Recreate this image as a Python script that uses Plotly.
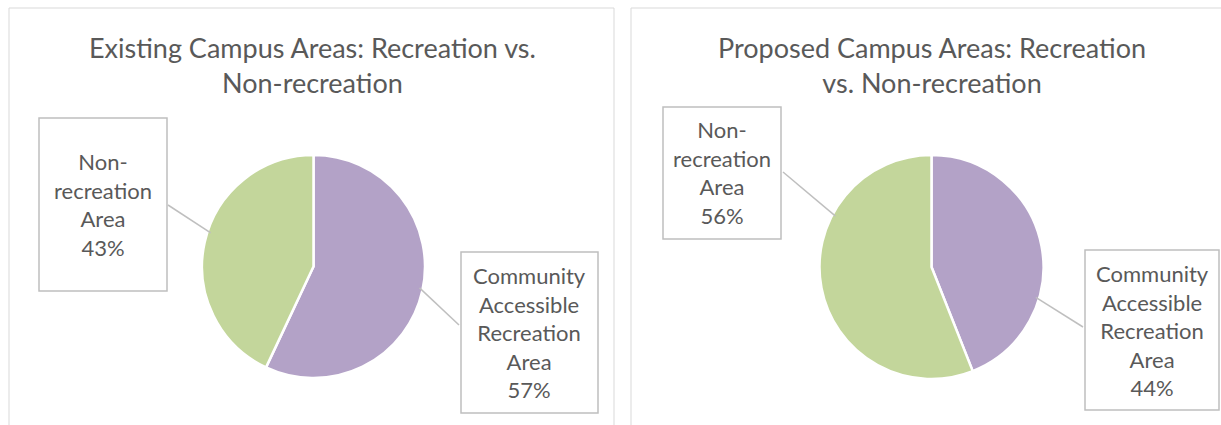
import math
import plotly.graph_objects as go

# data
categories = ["Community Accessible Recreation Area", "Non-recreation Area"]
label_text = ["Community<br>Accessible<br>Recreation<br>Area", "Non-<br>recreation<br>Area"]
existing_pct = [57, 43]
proposed_pct = [44, 56]
titles = [
    "Existing Campus Areas: Recreation vs.<br>Non-recreation",
    "Proposed Campus Areas: Recreation<br>vs. Non-recreation",
]

W, H = 1221, 425
COLORS = ["#B3A2C7", "#C3D69B"]
TEXT = "#595959"
FONT = "Lato"


def px(x):
    return x / W


def py(y):
    return 1 - y / H


# layout of each panel (pixels): pie box, title centre, label boxes, leader lines
panels = [
    dict(
        values=existing_pct, title=titles[0], frame=(9, 8, 614, 440),
        pie=(202, 155, 425, 378), title_xy=(312, 65),
        boxes=[(461, 252, 598, 413), (39, 118, 167, 291)],
        leader_start=[(459, 325), (168, 205)], leader_deg=[101.4, 288.1],
    ),
    dict(
        values=proposed_pct, title=titles[1], frame=(631, 8, 1240, 440),
        pie=(819, 155, 1044, 379), title_xy=(932, 65),
        boxes=[(1085, 250, 1219, 410), (663, 107, 781, 239)],
        leader_start=[(1083, 327), (783, 172)], leader_deg=[106.2, 297.9],
    ),
]

fig = go.Figure()
shapes = []
annotations = []

for p in panels:
    fx0, fy0, fx1, fy1 = p["frame"]
    shapes.append(dict(type="rect", xref="paper", yref="paper",
                       x0=px(fx0), x1=px(fx1), y0=py(fy0), y1=py(fy1),
                       line=dict(color="#D9D9D9", width=1), layer="below"))

    x0, y0, x1, y1 = p["pie"]
    fig.add_trace(go.Pie(
        labels=categories, values=p["values"],
        domain=dict(x=[px(x0), px(x1)], y=[py(y1), py(y0)]),
        sort=False, direction="clockwise", rotation=0,
        textinfo="none", hoverinfo="label+percent",
        marker=dict(colors=COLORS, line=dict(color="white", width=2.5)),
    ))

    cx, cy = (x0 + x1) / 2, (y0 + y1) / 2
    r = min(x1 - x0, y1 - y0) / 2

    tx, ty = p["title_xy"]
    annotations.append(dict(
        x=px(tx), y=py(ty), xref="paper", yref="paper", xanchor="center", yanchor="middle",
        text=p["title"], showarrow=False, align="center",
        font=dict(family=FONT, size=27, color=TEXT),
    ))

    for i, val in enumerate(p["values"]):
        bx0, by0, bx1, by1 = p["boxes"][i]
        shapes.append(dict(type="rect", xref="paper", yref="paper",
                           x0=px(bx0), x1=px(bx1), y0=py(by0), y1=py(by1),
                           line=dict(color="#BFBFBF", width=1.5), fillcolor="white"))
        annotations.append(dict(
            x=px((bx0 + bx1) / 2), y=py((by0 + by1) / 2), xref="paper", yref="paper",
            xanchor="center", yanchor="middle", showarrow=False, align="center",
            text=f"{label_text[i]}<br>{val}%",
            font=dict(family=FONT, size=22, color=TEXT),
        ))
        sx, sy = p["leader_start"][i]
        a = math.radians(p["leader_deg"][i])
        ex, ey = cx + 0.97 * r * math.sin(a), cy - 0.97 * r * math.cos(a)
        shapes.append(dict(type="line", xref="paper", yref="paper",
                           x0=px(sx), y0=py(sy), x1=px(ex), y1=py(ey),
                           line=dict(color="#BFBFBF", width=1.5)))

fig.update_layout(
    width=W, height=H,
    margin=dict(l=0, r=0, t=0, b=0),
    paper_bgcolor="white", plot_bgcolor="white",
    showlegend=False,
    shapes=shapes,
    annotations=annotations,
)

# drop the default 8px body margin so the figure sits at the window's corner
fig.write_html(
    "out.html",
    config={"displayModeBar": False},
    post_script="document.body.style.margin = '0';",
)
